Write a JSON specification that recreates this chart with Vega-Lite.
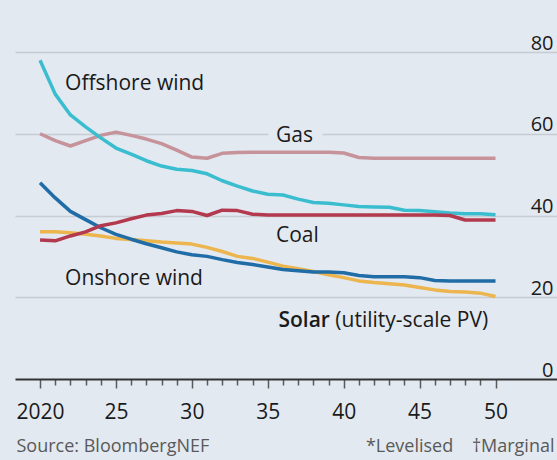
{
  "$schema": "https://vega.github.io/schema/vega-lite/v6.json",
  "width": 542,
  "height": 327,
  "autosize": {"type": "none"},
  "padding": {"left": 15, "top": 52, "right": 0, "bottom": 81},
  "background": "#e2e9f0",
  "config": {"view": {"stroke": null}, "font": "Open Sans", "axis": {"labelOverlap": false}},
  "datasets": {
    "costs": [
      {"series": "Gas", "year": 2020, "value": 60},
      {"series": "Gas", "year": 2021, "value": 58.3},
      {"series": "Gas", "year": 2022, "value": 57},
      {"series": "Gas", "year": 2023, "value": 58.3},
      {"series": "Gas", "year": 2024, "value": 59.6},
      {"series": "Gas", "year": 2025, "value": 60.4},
      {"series": "Gas", "year": 2026, "value": 59.6},
      {"series": "Gas", "year": 2027, "value": 58.7},
      {"series": "Gas", "year": 2028, "value": 57.6},
      {"series": "Gas", "year": 2029, "value": 56},
      {"series": "Gas", "year": 2030, "value": 54.3},
      {"series": "Gas", "year": 2031, "value": 54},
      {"series": "Gas", "year": 2032, "value": 55.2},
      {"series": "Gas", "year": 2033, "value": 55.4},
      {"series": "Gas", "year": 2034, "value": 55.5},
      {"series": "Gas", "year": 2035, "value": 55.5},
      {"series": "Gas", "year": 2036, "value": 55.5},
      {"series": "Gas", "year": 2037, "value": 55.5},
      {"series": "Gas", "year": 2038, "value": 55.5},
      {"series": "Gas", "year": 2039, "value": 55.5},
      {"series": "Gas", "year": 2040, "value": 55.3},
      {"series": "Gas", "year": 2041, "value": 54.2},
      {"series": "Gas", "year": 2042, "value": 54},
      {"series": "Gas", "year": 2043, "value": 54},
      {"series": "Gas", "year": 2044, "value": 54},
      {"series": "Gas", "year": 2045, "value": 54},
      {"series": "Gas", "year": 2046, "value": 54},
      {"series": "Gas", "year": 2047, "value": 54},
      {"series": "Gas", "year": 2048, "value": 54},
      {"series": "Gas", "year": 2049, "value": 54},
      {"series": "Gas", "year": 2050, "value": 54},
      {"series": "Solar", "year": 2020, "value": 36},
      {"series": "Solar", "year": 2021, "value": 36},
      {"series": "Solar", "year": 2022, "value": 35.8},
      {"series": "Solar", "year": 2023, "value": 35.4},
      {"series": "Solar", "year": 2024, "value": 35},
      {"series": "Solar", "year": 2025, "value": 34.4},
      {"series": "Solar", "year": 2026, "value": 34.1},
      {"series": "Solar", "year": 2027, "value": 33.8},
      {"series": "Solar", "year": 2028, "value": 33.5},
      {"series": "Solar", "year": 2029, "value": 33.3},
      {"series": "Solar", "year": 2030, "value": 33},
      {"series": "Solar", "year": 2031, "value": 32.2},
      {"series": "Solar", "year": 2032, "value": 31.2},
      {"series": "Solar", "year": 2033, "value": 30},
      {"series": "Solar", "year": 2034, "value": 29.5},
      {"series": "Solar", "year": 2035, "value": 28.6},
      {"series": "Solar", "year": 2036, "value": 27.6},
      {"series": "Solar", "year": 2037, "value": 27},
      {"series": "Solar", "year": 2038, "value": 26.3},
      {"series": "Solar", "year": 2039, "value": 25.5},
      {"series": "Solar", "year": 2040, "value": 24.8},
      {"series": "Solar", "year": 2041, "value": 24},
      {"series": "Solar", "year": 2042, "value": 23.6},
      {"series": "Solar", "year": 2043, "value": 23.3},
      {"series": "Solar", "year": 2044, "value": 23},
      {"series": "Solar", "year": 2045, "value": 22.4},
      {"series": "Solar", "year": 2046, "value": 21.8},
      {"series": "Solar", "year": 2047, "value": 21.4},
      {"series": "Solar", "year": 2048, "value": 21.3},
      {"series": "Solar", "year": 2049, "value": 21},
      {"series": "Solar", "year": 2050, "value": 20.2},
      {"series": "Offshore wind", "year": 2020, "value": 78},
      {"series": "Offshore wind", "year": 2021, "value": 69.7},
      {"series": "Offshore wind", "year": 2022, "value": 64.6},
      {"series": "Offshore wind", "year": 2023, "value": 61.7},
      {"series": "Offshore wind", "year": 2024, "value": 59},
      {"series": "Offshore wind", "year": 2025, "value": 56.5},
      {"series": "Offshore wind", "year": 2026, "value": 55},
      {"series": "Offshore wind", "year": 2027, "value": 53.4},
      {"series": "Offshore wind", "year": 2028, "value": 52.1},
      {"series": "Offshore wind", "year": 2029, "value": 51.3},
      {"series": "Offshore wind", "year": 2030, "value": 51},
      {"series": "Offshore wind", "year": 2031, "value": 50.2},
      {"series": "Offshore wind", "year": 2032, "value": 48.5},
      {"series": "Offshore wind", "year": 2033, "value": 47.2},
      {"series": "Offshore wind", "year": 2034, "value": 46},
      {"series": "Offshore wind", "year": 2035, "value": 45.2},
      {"series": "Offshore wind", "year": 2036, "value": 45},
      {"series": "Offshore wind", "year": 2037, "value": 44},
      {"series": "Offshore wind", "year": 2038, "value": 43.2},
      {"series": "Offshore wind", "year": 2039, "value": 43},
      {"series": "Offshore wind", "year": 2040, "value": 42.6},
      {"series": "Offshore wind", "year": 2041, "value": 42.2},
      {"series": "Offshore wind", "year": 2042, "value": 42.1},
      {"series": "Offshore wind", "year": 2043, "value": 42},
      {"series": "Offshore wind", "year": 2044, "value": 41.3},
      {"series": "Offshore wind", "year": 2045, "value": 41.2},
      {"series": "Offshore wind", "year": 2046, "value": 40.9},
      {"series": "Offshore wind", "year": 2047, "value": 40.6},
      {"series": "Offshore wind", "year": 2048, "value": 40.4},
      {"series": "Offshore wind", "year": 2049, "value": 40.4},
      {"series": "Offshore wind", "year": 2050, "value": 40.2},
      {"series": "Onshore wind", "year": 2020, "value": 48},
      {"series": "Onshore wind", "year": 2021, "value": 44.3},
      {"series": "Onshore wind", "year": 2022, "value": 41},
      {"series": "Onshore wind", "year": 2023, "value": 39},
      {"series": "Onshore wind", "year": 2024, "value": 37},
      {"series": "Onshore wind", "year": 2025, "value": 35.4},
      {"series": "Onshore wind", "year": 2026, "value": 34.2},
      {"series": "Onshore wind", "year": 2027, "value": 33.1},
      {"series": "Onshore wind", "year": 2028, "value": 32.1},
      {"series": "Onshore wind", "year": 2029, "value": 31.1},
      {"series": "Onshore wind", "year": 2030, "value": 30.4},
      {"series": "Onshore wind", "year": 2031, "value": 30},
      {"series": "Onshore wind", "year": 2032, "value": 29.2},
      {"series": "Onshore wind", "year": 2033, "value": 28.5},
      {"series": "Onshore wind", "year": 2034, "value": 28},
      {"series": "Onshore wind", "year": 2035, "value": 27.4},
      {"series": "Onshore wind", "year": 2036, "value": 26.8},
      {"series": "Onshore wind", "year": 2037, "value": 26.5},
      {"series": "Onshore wind", "year": 2038, "value": 26.2},
      {"series": "Onshore wind", "year": 2039, "value": 26.2},
      {"series": "Onshore wind", "year": 2040, "value": 26},
      {"series": "Onshore wind", "year": 2041, "value": 25.3},
      {"series": "Onshore wind", "year": 2042, "value": 25},
      {"series": "Onshore wind", "year": 2043, "value": 25},
      {"series": "Onshore wind", "year": 2044, "value": 25},
      {"series": "Onshore wind", "year": 2045, "value": 24.8},
      {"series": "Onshore wind", "year": 2046, "value": 24.1},
      {"series": "Onshore wind", "year": 2047, "value": 24},
      {"series": "Onshore wind", "year": 2048, "value": 24},
      {"series": "Onshore wind", "year": 2049, "value": 24},
      {"series": "Onshore wind", "year": 2050, "value": 24},
      {"series": "Coal", "year": 2020, "value": 34},
      {"series": "Coal", "year": 2021, "value": 33.8},
      {"series": "Coal", "year": 2022, "value": 35},
      {"series": "Coal", "year": 2023, "value": 36},
      {"series": "Coal", "year": 2024, "value": 37.5},
      {"series": "Coal", "year": 2025, "value": 38.2},
      {"series": "Coal", "year": 2026, "value": 39.2},
      {"series": "Coal", "year": 2027, "value": 40.1},
      {"series": "Coal", "year": 2028, "value": 40.5},
      {"series": "Coal", "year": 2029, "value": 41.2},
      {"series": "Coal", "year": 2030, "value": 41},
      {"series": "Coal", "year": 2031, "value": 40},
      {"series": "Coal", "year": 2032, "value": 41.3},
      {"series": "Coal", "year": 2033, "value": 41.2},
      {"series": "Coal", "year": 2034, "value": 40.3},
      {"series": "Coal", "year": 2035, "value": 40.1},
      {"series": "Coal", "year": 2036, "value": 40.1},
      {"series": "Coal", "year": 2037, "value": 40.1},
      {"series": "Coal", "year": 2038, "value": 40.1},
      {"series": "Coal", "year": 2039, "value": 40.1},
      {"series": "Coal", "year": 2040, "value": 40.1},
      {"series": "Coal", "year": 2041, "value": 40.1},
      {"series": "Coal", "year": 2042, "value": 40.1},
      {"series": "Coal", "year": 2043, "value": 40.1},
      {"series": "Coal", "year": 2044, "value": 40.1},
      {"series": "Coal", "year": 2045, "value": 40.1},
      {"series": "Coal", "year": 2046, "value": 40.1},
      {"series": "Coal", "year": 2047, "value": 40},
      {"series": "Coal", "year": 2048, "value": 38.9},
      {"series": "Coal", "year": 2049, "value": 38.9},
      {"series": "Coal", "year": 2050, "value": 38.9}
    ],
    "labels": [
      {"text": "Offshore wind", "year": 2021.65, "value": 70.8, "w": "normal"},
      {"text": "Gas", "year": 2035.54, "value": 58.0, "w": "normal"},
      {"text": "Coal", "year": 2035.54, "value": 33.6, "w": "normal"},
      {"text": "Onshore wind", "year": 2021.65, "value": 23.0, "w": "normal"},
      {"text": "Solar", "year": 2035.7, "value": 12.6, "w": "bold"},
      {"text": "(utility-scale PV)", "year": 2039.45, "value": 12.6, "w": "normal"}
    ]
  },
  "encoding": {
    "x": {
      "field": "year", "type": "quantitative",
      "scale": {"domain": [2018.35, 2054.05], "nice": false, "zero": false},
      "axis": {
        "values": [2020, 2021, 2022, 2023, 2024, 2025, 2026, 2027, 2028, 2029, 2030, 2031, 2032, 2033, 2034, 2035, 2036, 2037, 2038, 2039, 2040, 2041, 2042, 2043, 2044, 2045, 2046, 2047, 2048, 2049, 2050],
        "labelExpr": "datum.value == 2020 ? '2020' : (datum.value % 5 == 0 ? substring(toString(datum.value), 2, 4) : '')",
        "grid": false,
        "domainColor": "#333333",
        "domainWidth": 2,
        "tickColor": "#5a5a5a",
        "tickWidth": 1.5,
        "tickSize": {"condition": {"test": "datum.value % 5 == 0", "value": 9}, "value": 6},
        "labelFontSize": 21,
        "labelColor": "#1a1a1a",
        "labelFont": "Open Sans",
        "labelBaseline": "alphabetic",
        "labelPadding": 30,
        "labelFlush": false,
        "labelOverlap": false,
        "labelBound": false,
        "title": "Source: BloombergNEF",
        "titleX": 1,
        "titleY": 72,
        "titleAlign": "left",
        "titleAnchor": "start",
        "titleBaseline": "alphabetic",
        "titleFontSize": 18,
        "titleFontWeight": "normal",
        "titleColor": "#595959",
        "titleFont": "Open Sans"
      }
    },
    "y": {
      "field": "value", "type": "quantitative",
      "scale": {"domain": [0, 80], "nice": false},
      "axis": {
        "orient": "right",
        "values": [0, 20, 40, 60, 80],
        "domain": false,
        "ticks": false,
        "tickSize": 0,
        "grid": true,
        "gridColor": {"condition": {"test": "datum.value === 0", "value": "transparent"}, "value": "#c6ccd2"},
        "gridWidth": 1.5,
        "gridDash": {"condition": {"test": "datum.value === 60", "value": [235, 54, 1000]}, "value": []},
        "labelAlign": "right",
        "labelPadding": -4,
        "labelBaseline": "alphabetic",
        "labelOffset": -3,
        "labelFontSize": 20,
        "labelColor": "#1a1a1a",
        "labelFont": "Open Sans",
        "labelFlush": false,
        "labelOverlap": false,
        "labelBound": false,
        "title": "*Levelised\u00a0\u00a0\u00a0\u00a0†Marginal",
        "titleAngle": 0,
        "titleAlign": "right",
        "titleBaseline": "alphabetic",
        "titleX": -3,
        "titleY": 399,
        "titleFontSize": 18,
        "titleFontWeight": "normal",
        "titleColor": "#595959",
        "titleFont": "Open Sans"
      }
    }
  },
  "layer": [
    {
      "data": {"name": "costs"},
      "mark": {"type": "line", "strokeWidth": 3.5, "strokeJoin": "round"},
      "encoding": {
        "color": {
          "field": "series", "type": "nominal",
          "scale": {
            "domain": ["Gas", "Solar", "Offshore wind", "Onshore wind", "Coal"],
            "range": ["#c7939a", "#ecb54e", "#3bbdd0", "#1f6ca6", "#b3394f"]
          },
          "legend": null
        }
      }
    },
    {
      "data": {"name": "labels"},
      "transform": [{"filter": "datum.w === 'normal'"}],
      "mark": {"type": "text", "align": "left", "baseline": "alphabetic", "fontSize": 21, "color": "#1a1a1a", "font": "Open Sans"},
      "encoding": {
        "text": {"field": "text"}
      }
    },
    {
      "data": {"name": "labels"},
      "transform": [{"filter": "datum.w === 'bold'"}],
      "mark": {"type": "text", "align": "left", "baseline": "alphabetic", "fontSize": 21, "fontWeight": 600, "color": "#1a1a1a", "font": "Open Sans"},
      "encoding": {
        "text": {"field": "text"}
      }
    }
  ]
}
